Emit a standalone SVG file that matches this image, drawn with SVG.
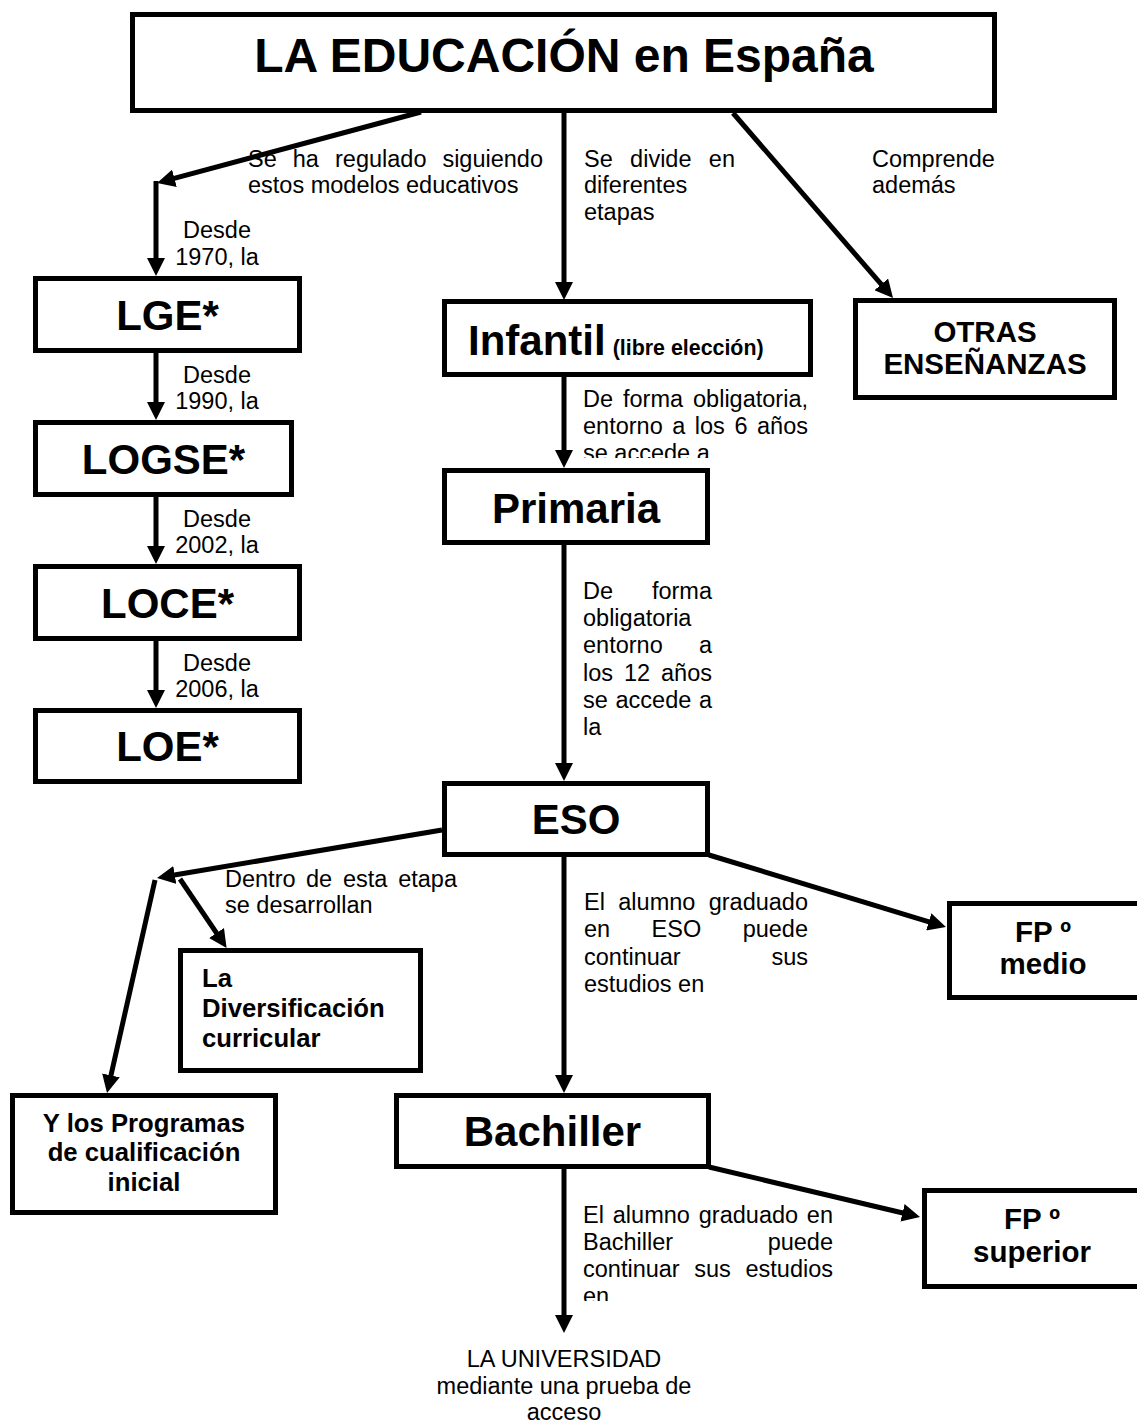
<svg xmlns="http://www.w3.org/2000/svg" width="1137" height="1423" viewBox="0 0 1137 1423">
<style>
  text { font-family: "Liberation Sans", Arial, sans-serif; fill: #000; }
  .box { fill: #fff; stroke: #000; stroke-width: 5; }
  .ln { stroke: #000; stroke-width: 5; fill: none; marker-end: url(#ah); }
  .t { font-size: 23.5px; }
  .n { font-size: 42px; font-weight: bold; text-anchor: middle; }
  .b14 { font-size: 29.5px; font-weight: bold; text-anchor: middle; }
  .b12 { font-size: 25.7px; font-weight: bold; }
  .e { text-anchor: end; }
  .m { text-anchor: middle; }
</style>
<defs>
  <marker id="ah" viewBox="0 0 18 18" markerWidth="18" markerHeight="18" refX="8" refY="9" orient="auto" markerUnits="userSpaceOnUse">
    <path d="M0,0 L18,9 L0,18 z" fill="#000"/>
  </marker>
  <clipPath id="c1"><rect x="570" y="380" width="260" height="78"/></clipPath>
  <clipPath id="c2"><rect x="570" y="1200" width="280" height="101"/></clipPath>
</defs>
<rect x="0" y="0" width="1137" height="1423" fill="#fff"/>

<g id="connectors">
  <line class="ln" x1="421" y1="112" x2="166.7" y2="180.4"/>
  <line class="ln" x1="156" y1="181" x2="156" y2="266"/>
  <line class="ln" x1="156" y1="353" x2="156" y2="410"/>
  <line class="ln" x1="156" y1="497" x2="156" y2="554"/>
  <line class="ln" x1="156" y1="641" x2="156" y2="698"/>
  <line class="ln" x1="564" y1="113" x2="564" y2="290"/>
  <line class="ln" x1="733" y1="113" x2="886.5" y2="290.4"/>
  <line class="ln" x1="564" y1="377" x2="564" y2="458"/>
  <line class="ln" x1="564" y1="545" x2="564" y2="771"/>
  <line class="ln" x1="442" y1="830" x2="166.9" y2="876.3"/>
  <line class="ln" x1="155" y1="880" x2="109.2" y2="1083.2"/>
  <line class="ln" x1="180" y1="879" x2="221" y2="939.7"/>
  <line class="ln" x1="564" y1="857" x2="564" y2="1083"/>
  <line class="ln" x1="709" y1="855" x2="936.4" y2="924.1"/>
  <line class="ln" x1="564" y1="1169" x2="564" y2="1323"/>
  <line class="ln" x1="709" y1="1167" x2="910.3" y2="1214.7"/>
</g>

<g id="edge-labels">
  <text class="t" x="248" y="167">Se</text>
  <text class="t" x="292.8" y="167">ha</text>
  <text class="t" x="335" y="167">regulado</text>
  <text class="t e" x="543" y="167">siguiendo</text>
  <text class="t" x="248" y="193">estos modelos educativos</text>

  <text class="t" x="584" y="167">Se</text>
  <text class="t" x="630.1" y="167">divide</text>
  <text class="t e" x="735" y="167">en</text>
  <text class="t" x="584" y="193">diferentes</text>
  <text class="t" x="584" y="220">etapas</text>

  <text class="t" x="872" y="167">Comprende</text>
  <text class="t" x="872" y="193">además</text>

  <text class="t m" x="217" y="238">Desde</text>
  <text class="t m" x="217" y="265">1970, la</text>
  <text class="t m" x="217" y="383">Desde</text>
  <text class="t m" x="217" y="409">1990, la</text>
  <text class="t m" x="217" y="527">Desde</text>
  <text class="t m" x="217" y="553">2002, la</text>
  <text class="t m" x="217" y="671">Desde</text>
  <text class="t m" x="217" y="697">2006, la</text>

  <g clip-path="url(#c1)">
    <text class="t" x="583" y="407">De</text>
    <text class="t" x="623" y="407">forma</text>
    <text class="t e" x="808" y="407">obligatoria,</text>
    <text class="t" x="583" y="434">entorno</text>
    <text class="t" x="672.2" y="434">a</text>
    <text class="t" x="694.8" y="434">los</text>
    <text class="t" x="734.4" y="434">6</text>
    <text class="t e" x="808" y="434">años</text>
    <text class="t" x="583" y="461">se accede a</text>
  </g>

  <text class="t" x="583" y="599">De</text>
  <text class="t e" x="712" y="599">forma</text>
  <text class="t" x="583" y="626">obligatoria</text>
  <text class="t" x="583" y="653">entorno</text>
  <text class="t e" x="712" y="653">a</text>
  <text class="t" x="583" y="681">los</text>
  <text class="t" x="624" y="681">12</text>
  <text class="t e" x="712" y="681">años</text>
  <text class="t" x="583" y="708">se</text>
  <text class="t" x="615.5" y="708">accede</text>
  <text class="t e" x="712" y="708">a</text>
  <text class="t" x="583" y="735">la</text>

  <text class="t" x="225" y="887">Dentro</text>
  <text class="t" x="306" y="887">de</text>
  <text class="t" x="343" y="887">esta</text>
  <text class="t e" x="457" y="887">etapa</text>
  <text class="t" x="225" y="913">se desarrollan</text>

  <text class="t" x="584" y="910">El</text>
  <text class="t" x="618.3" y="910">alumno</text>
  <text class="t e" x="808" y="910">graduado</text>
  <text class="t" x="584" y="937">en</text>
  <text class="t" x="651.6" y="937">ESO</text>
  <text class="t e" x="808" y="937">puede</text>
  <text class="t" x="584" y="965">continuar</text>
  <text class="t e" x="808" y="965">sus</text>
  <text class="t" x="584" y="992">estudios en</text>

  <g clip-path="url(#c2)">
    <text class="t" x="583" y="1223">El</text>
    <text class="t" x="612.8" y="1223">alumno</text>
    <text class="t" x="698.8" y="1223">graduado</text>
    <text class="t e" x="833" y="1223">en</text>
    <text class="t" x="583" y="1250">Bachiller</text>
    <text class="t e" x="833" y="1250">puede</text>
    <text class="t" x="583" y="1277">continuar</text>
    <text class="t" x="694.3" y="1277">sus</text>
    <text class="t e" x="833" y="1277">estudios</text>
    <text class="t" x="583" y="1304">en</text>
  </g>
</g>

<g id="node-title">
  <rect class="box" x="132.5" y="14.5" width="862" height="96"/>
  <text x="564" y="72" font-size="48" font-weight="bold" text-anchor="middle">LA EDUCACIÓN en España</text>
</g>
<g id="node-lge">
  <rect class="box" x="35.5" y="278.5" width="264" height="72"/>
  <text class="n" x="167.5" y="330">LGE*</text>
</g>
<g id="node-logse">
  <rect class="box" x="35.5" y="422.5" width="256" height="72"/>
  <text class="n" x="163.5" y="474">LOGSE*</text>
</g>
<g id="node-loce">
  <rect class="box" x="35.5" y="566.5" width="264" height="72"/>
  <text class="n" x="167.5" y="618">LOCE*</text>
</g>
<g id="node-loe">
  <rect class="box" x="35.5" y="710.5" width="264" height="71"/>
  <text class="n" x="167.5" y="761">LOE*</text>
</g>
<g id="node-infantil">
  <rect class="box" x="444.5" y="301.5" width="366" height="73"/>
  <text x="468" y="355" font-size="42" font-weight="bold">Infantil<tspan font-size="21.4" dx="7">(libre elección)</tspan></text>
</g>
<g id="node-otras">
  <rect class="box" x="855.5" y="300.5" width="259" height="97"/>
  <text class="b14" x="985" y="342">OTRAS</text>
  <text class="b14" x="985" y="374">ENSEÑANZAS</text>
</g>
<g id="node-primaria">
  <rect class="box" x="444.5" y="470.5" width="263" height="72"/>
  <text class="n" x="576" y="523">Primaria</text>
</g>
<g id="node-eso">
  <rect class="box" x="444.5" y="783.5" width="263" height="71"/>
  <text class="n" x="576" y="834">ESO</text>
</g>
<g id="node-diversificacion">
  <rect class="box" x="180.5" y="950.5" width="240" height="120"/>
  <text class="b12" x="202" y="987">La</text>
  <text class="b12" x="202" y="1017">Diversificación</text>
  <text class="b12" x="202" y="1047">curricular</text>
</g>
<g id="node-programas">
  <rect class="box" x="12.5" y="1095.5" width="263" height="117"/>
  <text class="b12" x="144" y="1132" text-anchor="middle">Y los Programas</text>
  <text class="b12" x="144" y="1161" text-anchor="middle">de cualificación</text>
  <text class="b12" x="144" y="1191" text-anchor="middle">inicial</text>
</g>
<g id="node-fp-medio">
  <rect class="box" x="949.5" y="903.5" width="192" height="94"/>
  <text class="b14" x="1043" y="942">FP º</text>
  <text class="b14" x="1043" y="974">medio</text>
</g>
<g id="node-bachiller">
  <rect class="box" x="396.5" y="1095.5" width="312" height="71"/>
  <text class="n" x="552.5" y="1146">Bachiller</text>
</g>
<g id="node-fp-superior">
  <rect class="box" x="924.5" y="1190.5" width="217" height="96"/>
  <text class="b14" x="1032" y="1229">FP º</text>
  <text class="b14" x="1032" y="1262">superior</text>
</g>
<g id="node-universidad">
  <text class="t m" x="564" y="1367">LA UNIVERSIDAD</text>
  <text class="t m" x="564" y="1394">mediante una prueba de</text>
  <text class="t m" x="564" y="1420">acceso</text>
</g>
</svg>
